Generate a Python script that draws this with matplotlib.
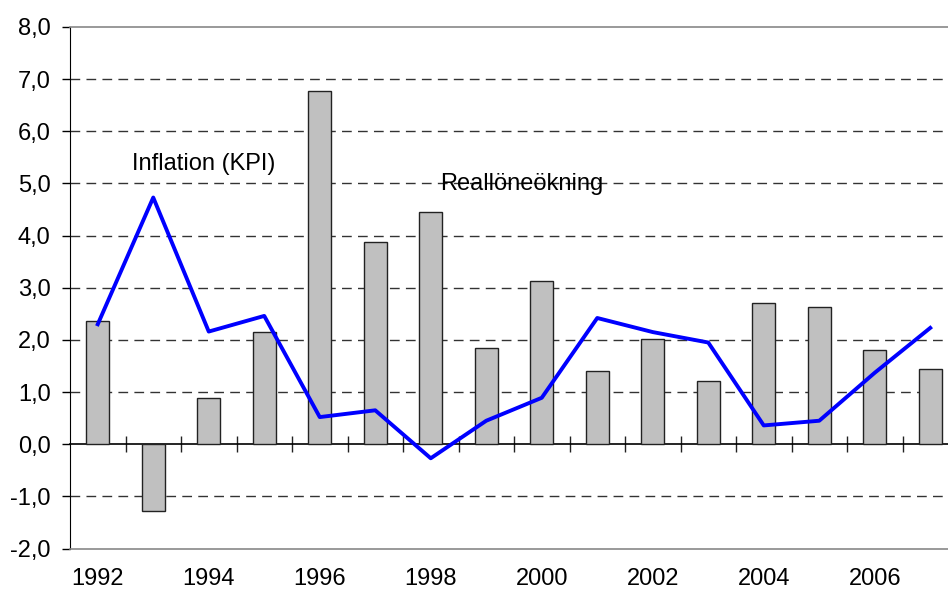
import numpy as np
import matplotlib
matplotlib.use("Agg")
import matplotlib.pyplot as plt
from matplotlib.ticker import FuncFormatter

plt.rcParams['font.family'] = ['Liberation Sans', 'DejaVu Sans']

# Data
years = list(range(1992, 2008))
reallon = [2.36, -1.28, 0.89, 2.15, 6.78, 3.87, 4.46, 1.84, 3.12, 1.40,
           2.01, 1.21, 2.70, 2.63, 1.81, 1.44]
inflation = [2.30, 4.73, 2.16, 2.46, 0.52, 0.65, -0.27, 0.45, 0.89, 2.42,
             2.15, 1.95, 0.36, 0.45, 1.37, 2.23]
year_labels = [str(y) if y % 2 == 0 else "" for y in years]

fig = plt.figure(figsize=(9.48, 5.95), dpi=100)
ax = fig.add_axes([70 / 948, 46.5 / 595, 888 / 948, 521.5 / 595])

x = np.arange(len(years))
ax.bar(x, reallon, width=0.41, color='#c0c0c0', edgecolor='#222222',
       linewidth=1.0, zorder=2)
ax.plot(x, inflation, color='#0000ff', linewidth=2.8, zorder=3)

ax.set_xlim(-0.5, len(years) - 0.5)
ax.set_ylim(-2, 8)
ax.set_yticks(np.arange(-2, 9, 1))
ax.yaxis.set_major_formatter(FuncFormatter(lambda v, p: f"{v:.1f}".replace('.', ',')))

ax.set_xticks(x)
ax.set_xticklabels(year_labels)
ax.tick_params(axis='x', length=0, pad=14, labelsize=17)
ax.tick_params(axis='y', length=6, width=1, pad=8, labelsize=17, direction='out')

# dashed grid
ax.set_axisbelow(True)
ax.yaxis.grid(True, color='#333333', linewidth=1, linestyle=(0, (7, 4.5)))
ygl = ax.get_ygridlines()
ygl[0].set_visible(False)
ygl[-1].set_visible(False)
ygl[2].set_visible(False)

for side in ['top', 'bottom', 'right']:
    ax.spines[side].set_color('#888888')
    ax.spines[side].set_linewidth(1.2)
ax.spines['left'].set_color('black')

# zero axis with category ticks
sec = ax.secondary_xaxis(0.2)
sec.set_xticks(np.arange(0.5, len(years), 1.0))
sec.set_xticklabels([])
sec.tick_params(axis='x', direction='inout', length=11, width=1, color='#222222')
sec.spines['bottom'].set_color('black')
sec.spines['bottom'].set_linewidth(1.2)

ax.text(1.9, 5.38, "Inflation (KPI)", fontsize=17, ha='center', va='center')
ax.text(6.17, 4.98, "Reallöneökning", fontsize=17, ha='left', va='center')

fig.savefig("out.png", dpi=100)
